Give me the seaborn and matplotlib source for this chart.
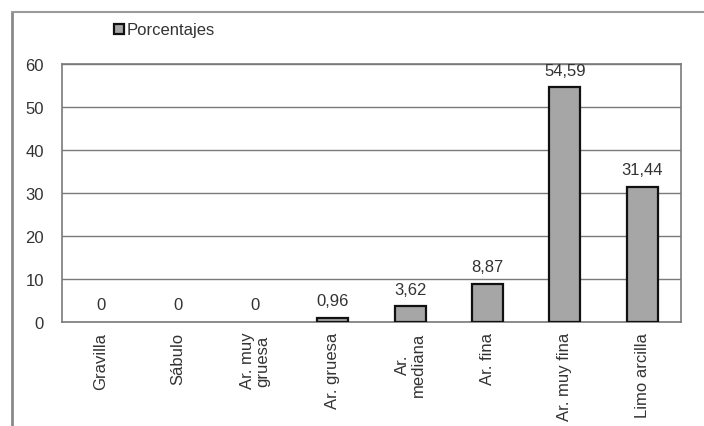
import matplotlib
matplotlib.use("Agg")
import matplotlib.pyplot as plt
from matplotlib.patches import Patch
from matplotlib.lines import Line2D
import seaborn as sns
import pandas as pd

categorias = ["Gravilla", "Sábulo", "Ar. muy\ngruesa", "Ar. gruesa",
              "Ar.\nmediana", "Ar. fina", "Ar. muy fina", "Limo arcilla"]
porcentajes = [0, 0, 0, 0.96, 3.62, 8.87, 54.59, 31.44]
yticks = [0, 10, 20, 30, 40, 50, 60]
serie = "Porcentajes"

df = pd.DataFrame({"categoria": categorias, "valor": porcentajes})

sns.set_theme(style="white")
plt.rcParams["font.family"] = ["Liberation Sans", "DejaVu Sans"]
text_color = "#333333"
fs = 12

fig = plt.figure(figsize=(7.04, 4.27), dpi=100)
ax = fig.add_axes([62 / 704, 1 - 323 / 427, (681 - 62) / 704, (323 - 65) / 427])

sns.barplot(data=df, x="categoria", y="valor", ax=ax, color="#a6a6a6",
            saturation=1, width=0.4, edgecolor="#111111", linewidth=1.6,
            zorder=3)

# zero-height bars leave no visible mark
for patch in ax.patches:
    if patch.get_height() == 0:
        patch.set_linewidth(0)

ax.set_ylim(0, 60)
ax.set_yticks(yticks)
ax.set_yticklabels([str(t) for t in yticks], fontsize=fs, color=text_color)
ax.set_xlim(-0.5, len(categorias) - 0.5)
ax.yaxis.grid(True, color="#7a7a7a", linewidth=1.0, zorder=0)
ax.xaxis.grid(False)
ax.set_xlabel("")
ax.set_ylabel("")
for s in ax.spines.values():
    s.set_visible(True)
    s.set_color("#7a7a7a")
    s.set_linewidth(1.2)
ax.tick_params(axis="y", length=0, pad=13)
ax.tick_params(axis="x", length=0, pad=7)
ax.set_xticks(range(len(categorias)))
ax.set_xticklabels(categorias, rotation=90, fontsize=fs, color=text_color,
                   ha="center", va="top", multialignment="center",
                   linespacing=1.05)

etiquetas = [("%g" % v).replace(".", ",") if v != int(v) else str(int(v))
             for v in porcentajes]
ax.bar_label(ax.containers[0], labels=etiquetas, padding=7, fontsize=fs,
             color=text_color)

# outer chart frame
fig.add_artist(Line2D([11.5 / 704, 11.5 / 704], [0, 1 - 13 / 427],
                      transform=fig.transFigure, color="#8a8a8a", linewidth=2))
fig.add_artist(Line2D([11.5 / 704, 1], [1 - 13 / 427, 1 - 13 / 427],
                      transform=fig.transFigure, color="#9a9a9a", linewidth=1.5))

handle = Patch(facecolor="#a6a6a6", edgecolor="#111111", linewidth=1.6)
fig.legend([handle], [serie], loc="center left",
           bbox_to_anchor=(106 / 704, 1 - 31 / 427), frameon=False,
           fontsize=fs, handlelength=0.55, handleheight=0.55,
           handletextpad=0.2, labelcolor=text_color, borderpad=0)

fig.savefig("out.png", dpi=100)
